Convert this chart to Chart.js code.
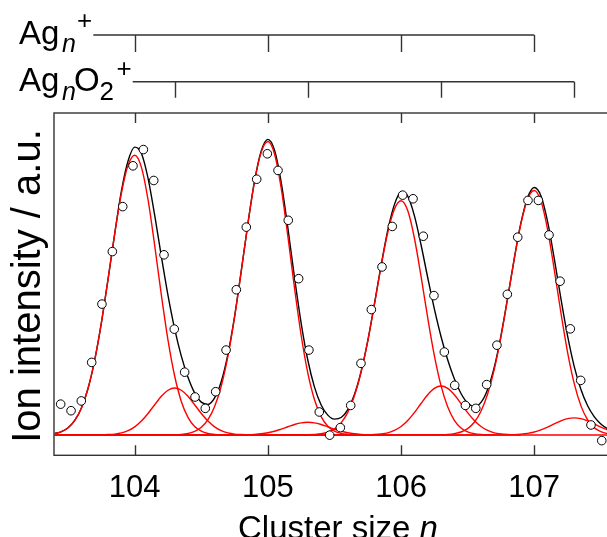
<!DOCTYPE html>
<html>
<head>
<meta charset="utf-8">
<script src="https://cdn.jsdelivr.net/npm/chart.js@4.4.1/dist/chart.umd.min.js"></script>
<style>
  html, body { margin: 0; padding: 0; background: #fff; overflow: hidden; }
  #wrap { width: 607px; height: 537px; overflow: hidden; }
  canvas { display: block; }
</style>
</head>
<body>
<div id="wrap"><canvas id="chart" width="640" height="537"></canvas></div>
<script>
// cluster size grid used for the fitted curves
const nGrid = [
  103.40, 103.45, 103.50, 103.55, 103.60, 103.65, 103.70, 103.75, 103.80, 103.85,
  103.90, 103.95, 104.00, 104.05, 104.10, 104.15, 104.20, 104.25, 104.30, 104.35,
  104.40, 104.45, 104.50, 104.55, 104.60, 104.65, 104.70, 104.75, 104.80, 104.85,
  104.90, 104.95, 105.00, 105.05, 105.10, 105.15, 105.20, 105.25, 105.30, 105.35,
  105.40, 105.45, 105.50, 105.55, 105.60, 105.65, 105.70, 105.75, 105.80, 105.85,
  105.90, 105.95, 106.00, 106.05, 106.10, 106.15, 106.20, 106.25, 106.30, 106.35,
  106.40, 106.45, 106.50, 106.55, 106.60, 106.65, 106.70, 106.75, 106.80, 106.85,
  106.90, 106.95, 107.00, 107.05, 107.10, 107.15, 107.20, 107.25, 107.30, 107.35,
  107.40, 107.45, 107.50, 107.55, 107.60
];

// black: total fit
const fitTotal = [
  1.5, 3.4, 7.4, 14.8, 27.6, 47.8, 76.8, 114.8, 159.4, 205.9,
  249.2, 280.1, 294.3, 288.1, 262.6, 224.7, 182.7, 142.8, 108.5, 80.6,
  59.1, 43.1, 33.6, 31.3, 37.9, 54.7, 82.7, 121.3, 167.7, 216.1,
  259.8, 290.4, 302.2, 291.1, 258.3, 211.7, 160.9, 114.2, 76.4, 48.9,
  30.7, 20.3, 16.2, 17.8, 25.9, 41.4, 64.9, 96.3, 134.0, 173.4,
  209.2, 235.5, 248.1, 244.2, 224.3, 194.5, 161.0, 128.9, 100.7, 76.9,
  57.4, 42.4, 32.6, 29.1, 33.3, 46.6, 69.3, 101.4, 139.9, 180.4,
  216.8, 242.6, 253.0, 244.6, 218.3, 180.7, 139.6, 101.5, 70.2, 46.7,
  30.1, 18.8, 11.3, 6.5, 3.5
];

// red: Ag_n+ components
const agPeak104 = [
  1.5, 3.4, 7.4, 14.8, 27.6, 47.8, 76.8, 114.8, 159.4, 205.9,
  247.1, 275.7, 286, 273.9, 240.6, 193.8, 143.2, 97.0, 60.3, 34.3,
  18.0, 8.6, 3.8, 1.5, 0.6, 0.2, 0
];
const agPeak105 = [
  0, 0, 0, 0, 0, 0, 0, 0, 0, 0,
  0, 0, 0, 0, 0, 0, 0, 0, 0.2, 0.6,
  1.6, 3.6, 7.8, 15.6, 29.0, 50.1, 80.6, 120.4, 167.3, 216.0,
  259.2, 289.2, 300, 287.3, 252.3, 203.3, 150.2, 101.7, 63.2, 36.0,
  18.8, 9.0, 4.0, 1.6, 0.6, 0.2, 0
];
const agPeak106 = [
  0, 0, 0, 0, 0, 0, 0, 0, 0, 0,
  0, 0, 0, 0, 0, 0, 0, 0, 0, 0,
  0, 0, 0, 0, 0, 0, 0, 0, 0, 0,
  0, 0, 0, 0, 0, 0, 0, 0, 0.2, 0.5,
  1.2, 2.9, 6.2, 12.4, 23.1, 40.0, 64.3, 96.1, 133.5, 172.4,
  207.0, 230.9, 239.5, 229.4, 201.4, 162.3, 119.9, 81.2, 50.5, 28.8,
  15.0, 7.2, 3.2, 1.3, 0.5, 0.2, 0
];
const agPeak107 = [
  0, 0, 0, 0, 0, 0, 0, 0, 0, 0,
  0, 0, 0, 0, 0, 0, 0, 0, 0, 0,
  0, 0, 0, 0, 0, 0, 0, 0, 0, 0,
  0, 0, 0, 0, 0, 0, 0, 0, 0, 0,
  0, 0, 0, 0, 0, 0, 0, 0, 0, 0,
  0, 0, 0, 0, 0, 0, 0, 0, 0.2, 0.5,
  1.3, 3.0, 6.5, 13.0, 24.2, 41.8, 67.1, 100.3, 139.4, 180.0,
  216.0, 241.0, 250, 239.4, 210.3, 169.4, 125.2, 84.8, 52.7, 30.0,
  15.7, 7.5, 3.3, 1.3, 0.5
];

// red: Ag_nO2+ components
const oxPeak104 = [
  0, 0, 0, 0, 0, 0, 0, 0.1, 0.4, 0.9,
  2.1, 4.4, 8.3, 14.2, 22.0, 30.9, 39.5, 45.7, 48, 45.7,
  39.5, 30.9, 22.0, 14.2, 8.3, 4.4, 2.1, 0.9, 0.4, 0.1,
  0
];
const oxPeak105 = [
  0, 0, 0, 0, 0, 0, 0, 0, 0, 0,
  0, 0, 0, 0, 0, 0, 0, 0, 0, 0,
  0, 0, 0, 0, 0, 0, 0, 0, 0.1, 0.2,
  0.6, 1.2, 2.2, 3.8, 6.0, 8.4, 10.7, 12.4, 13, 12.4,
  10.7, 8.4, 6.0, 3.8, 2.2, 1.2, 0.6, 0.2, 0.1, 0
];
const oxPeak106 = [
  0, 0, 0, 0, 0, 0, 0, 0, 0, 0,
  0, 0, 0, 0, 0, 0, 0, 0, 0, 0,
  0, 0, 0, 0, 0, 0, 0, 0, 0, 0,
  0, 0, 0, 0, 0, 0, 0, 0, 0, 0,
  0, 0, 0, 0, 0, 0, 0, 0.1, 0.4, 1.0,
  2.2, 4.6, 8.6, 14.8, 22.9, 32.2, 41.1, 47.6, 50, 47.6,
  41.1, 32.2, 22.9, 14.8, 8.6, 4.6, 2.2, 1.0, 0.4, 0.1,
  0
];
const oxPeak107 = [
  0, 0, 0, 0, 0, 0, 0, 0, 0, 0,
  0, 0, 0, 0, 0, 0, 0, 0, 0, 0,
  0, 0, 0, 0, 0, 0, 0, 0, 0, 0,
  0, 0, 0, 0, 0, 0, 0, 0, 0, 0,
  0, 0, 0, 0, 0, 0, 0, 0, 0, 0,
  0, 0, 0, 0, 0, 0, 0, 0, 0, 0,
  0, 0, 0, 0, 0, 0, 0, 0, 0.1, 0.3,
  0.8, 1.6, 3.0, 5.2, 8.0, 11.3, 14.4, 16.7, 17.5, 16.7,
  14.4, 11.3, 8.0, 5.2, 3.0
];
const backgroundLevel = 0;

// measured points
const measuredN = [
  103.444, 103.522, 103.599, 103.677, 103.754, 103.832, 103.910, 103.987, 104.065, 104.143,
  104.220, 104.297, 104.375, 104.453, 104.530, 104.608, 104.686, 104.763, 104.838, 104.916,
  104.996, 105.076, 105.153, 105.231, 105.308, 105.386, 105.464, 105.544, 105.622, 105.699,
  105.777, 105.857, 105.934, 106.012, 106.090, 106.167, 106.247, 106.325, 106.403, 106.483,
  106.561, 106.643, 106.720, 106.798, 106.876, 106.953, 107.031, 107.111, 107.194, 107.271,
  107.349, 107.426, 107.507
];
const measuredI = [
  31.5, 24.8, 34.8, 74.2, 133.8, 187.5, 233.5, 275.2, 291.8, 260.2,
  184.2, 108.2, 64.2, 38.8, 27.2, 44.2, 86.8, 148.5, 212.5, 261.5,
  287.5, 270.5, 219.5, 159.8, 86.8, 23.5, -0.2, 7.5, 30.2, 73.2,
  128.2, 171.8, 213.2, 245.2, 241.5, 203.2, 142.5, 84.8, 50.8, 30.2,
  27.2, 51.5, 91.8, 143.8, 202.2, 239.8, 239.8, 204.5, 157.2, 108.5,
  55.8, 10.2, -5.8
];

const clusterTicks = [104, 105, 106, 107];
const oxideTicks = [104.3, 105.3, 106.3, 107.3];
const xRange = [103.394, 107.644];
const yRange = [-20.8, 329.2];

const FONT = '"Liberation Sans", Arial, Helvetica, sans-serif';

function toPoints(values) {
  return values.map((v, i) => ({ x: nGrid[i], y: v }));
}

function redLine(values) {
  return {
    data: toPoints(values),
    borderColor: '#ff0000',
    borderWidth: 1.4,
    pointRadius: 0,
    fill: false,
    cubicInterpolationMode: 'monotone'
  };
}

function drawPieces(ctx, pieces) {
  pieces.forEach(p => {
    ctx.font = (p.italic ? 'italic ' : '') + p.size + 'px ' + FONT;
    ctx.fillText(p.text, p.x, p.y);
  });
}

const decor = {
  id: 'decor',
  afterDraw(chart) {
    const ctx = chart.ctx;
    const a = chart.chartArea;
    const xs = chart.scales.x;
    ctx.save();

    // frame and inward ticks
    ctx.strokeStyle = '#333';
    ctx.lineWidth = 1.4;
    ctx.strokeRect(a.left, a.top, a.right - a.left, a.bottom - a.top);
    ctx.beginPath();
    clusterTicks.forEach(v => {
      const px = Math.round(xs.getPixelForValue(v)) + 0.5;
      ctx.moveTo(px, a.bottom); ctx.lineTo(px, a.bottom - 10);
      ctx.moveTo(px, a.top); ctx.lineTo(px, a.top + 10);
    });
    ctx.stroke();

    // series marker axes on top
    const rows = [
      { y: 35, start: 93.3, ticks: clusterTicks, len: 17 },
      { y: 81.7, start: 132.7, ticks: oxideTicks, len: 16 }
    ];
    ctx.beginPath();
    rows.forEach(r => {
      const end = xs.getPixelForValue(r.ticks[r.ticks.length - 1]);
      ctx.moveTo(r.start, r.y); ctx.lineTo(end, r.y);
      r.ticks.forEach(v => {
        const px = Math.round(xs.getPixelForValue(v)) + 0.5;
        ctx.moveTo(px, r.y); ctx.lineTo(px, r.y + r.len);
      });
    });
    ctx.stroke();

    ctx.fillStyle = '#000';
    ctx.textAlign = 'left';
    ctx.textBaseline = 'alphabetic';
    drawPieces(ctx, [
      { text: 'Ag', x: 19, y: 43.5, size: 33 },
      { text: 'n', x: 62, y: 51.5, size: 25, italic: true },
      { text: '+', x: 77, y: 29, size: 26 },
      { text: 'Ag', x: 19, y: 91, size: 33 },
      { text: 'n', x: 62, y: 99.5, size: 25, italic: true },
      { text: 'O', x: 74, y: 91, size: 33 },
      { text: '2', x: 99.5, y: 100, size: 26 },
      { text: '+', x: 116.5, y: 77, size: 26 }
    ]);

    // x title
    ctx.font = '33px ' + FONT;
    const w1 = ctx.measureText('Cluster size ').width;
    drawPieces(ctx, [
      { text: 'Cluster size ', x: 238, y: 538.5, size: 33 },
      { text: 'n', x: 238 + w1, y: 538.5, size: 33, italic: true }
    ]);

    // y title
    ctx.translate(29, 286);
    ctx.rotate(-Math.PI / 2);
    ctx.textAlign = 'center';
    ctx.textBaseline = 'middle';
    ctx.font = '40px ' + FONT;
    ctx.fillText('Ion intensity / a.u.', 0, 0);
    ctx.restore();
  }
};

new Chart(document.getElementById('chart'), {
  type: 'line',
  data: {
    datasets: [
      {
        data: measuredN.map((n, i) => ({ x: n, y: measuredI[i] })),
        showLine: false,
        pointRadius: 4.3,
        pointBackgroundColor: '#fff',
        pointBorderColor: '#000',
        pointBorderWidth: 1
      },
      redLine(agPeak104),
      redLine(agPeak105),
      redLine(agPeak106),
      redLine(agPeak107),
      redLine(oxPeak104),
      redLine(oxPeak105),
      redLine(oxPeak106),
      redLine(oxPeak107),
      redLine(nGrid.map(() => backgroundLevel)),
      {
        data: toPoints(fitTotal),
        borderColor: '#000',
        borderWidth: 1.4,
        pointRadius: 0,
        fill: false,
        cubicInterpolationMode: 'monotone'
      }
    ]
  },
  options: {
    responsive: false,
    animation: false,
    devicePixelRatio: 1,
    layout: { padding: { left: 54, top: 113, right: 20, bottom: 22.5 } },
    plugins: { legend: { display: false }, tooltip: { enabled: false } },
    scales: {
      x: {
        type: 'linear',
        min: xRange[0],
        max: xRange[1],
        afterBuildTicks: s => { s.ticks = clusterTicks.map(v => ({ value: v })); },
        grid: { display: false },
        border: { display: false },
        ticks: { font: { family: FONT, size: 31 }, color: '#000', padding: 7 }
      },
      y: { display: false, min: yRange[0], max: yRange[1] }
    }
  },
  plugins: [decor]
});
</script>
</body>
</html>
